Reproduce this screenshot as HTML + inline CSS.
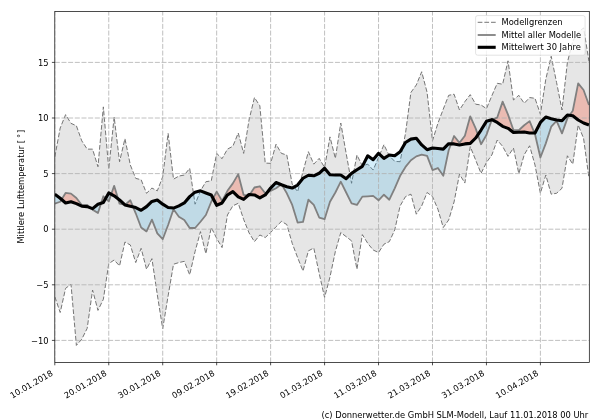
<!DOCTYPE html>
<html><head><meta charset="utf-8"><style>html,body{margin:0;padding:0;background:#fff;}svg{display:block;filter:blur(0.35px);}</style></head>
<body>
<svg width="600" height="420" viewBox="0 0 600 420">
<rect width="600" height="420" fill="#fff"/>
<defs><clipPath id="ax"><rect x="54.8" y="11.4" width="534.5" height="351.0"/></clipPath></defs>
<g clip-path="url(#ax)">
<polygon points="54.8,156.92 60.2,128.01 65.59,114.66 70.99,123.34 76.38,125.78 81.78,140.8 87.17,149.14 92.57,149.14 97.96,166.71 103.36,106.88 108.76,169.15 114.15,117 119.55,161.7 124.94,138.68 130.34,165.04 135.73,178.38 141.13,179.72 146.53,193.28 151.92,188.06 157.32,190.84 162.71,176.71 168.11,133.35 173.5,179.16 178.9,176.05 184.29,175.05 189.69,168.37 195.09,204.18 200.48,190.84 205.88,181.72 211.27,180.83 216.67,153.36 222.06,158.7 227.46,149.14 232.85,146.24 238.25,133.01 243.65,153.36 249.04,120 254.44,97.54 259.83,105.77 265.23,163.04 270.62,163.37 276.02,144.24 281.42,153.36 286.81,155.03 292.21,184.16 297.6,191.73 303,171.71 308.39,151.69 313.79,164.15 319.18,158.37 324.58,167.48 329.98,136.9 335.37,158.37 340.77,123 346.16,153.36 351.56,183.27 356.95,155.03 362.35,165.82 367.74,164.15 373.14,170.04 378.54,157.48 383.93,144.69 389.33,155.81 394.72,161.37 400.12,161.7 405.51,133.35 410.91,92.42 416.31,84.97 421.7,71.74 427.1,92.42 432.49,140.8 437.89,123.34 443.28,109.1 448.68,95.32 454.07,94.2 459.47,109.99 464.87,101.65 470.26,94.65 475.66,104.21 481.05,104.99 486.45,108.66 491.84,95.76 497.24,83.31 502.63,84.2 508.03,60.84 513.43,99.99 518.82,95.32 524.22,103.32 529.61,97.54 535.01,98.32 540.4,114.22 545.8,79.19 551.2,56.28 556.59,82.53 561.99,109.99 567.38,62.4 572.78,41.27 578.17,32.38 583.57,27.93 588.96,61.29 588.96,178.05 583.57,138.35 578.17,125.01 572.78,164.15 567.38,155.81 561.99,188.28 556.59,193.28 551.2,194.17 545.8,175.05 540.4,193.28 535.01,165.04 529.61,145.8 524.22,154.7 518.82,173.6 513.43,148.02 508.03,156.36 502.63,146.36 497.24,140.02 491.84,155.03 486.45,162.48 481.05,173.38 475.66,160.03 470.26,146.69 464.87,183.05 459.47,174.16 454.07,201.96 448.68,219.97 443.28,227.53 437.89,209.18 432.49,196.62 427.1,192.5 421.7,205.85 416.31,214.19 410.91,194.17 405.51,196.62 400.12,205.85 394.72,229.98 389.33,241.65 383.93,244.21 378.54,252.55 373.14,249.99 367.74,243.32 362.35,234.65 356.95,269.23 351.56,240.88 346.16,236.65 340.77,232.54 335.37,251.44 329.98,277.02 324.58,297.48 319.18,273.35 313.79,247.99 308.39,250.88 303,271.01 297.6,257.56 292.21,243.32 286.81,224.53 281.42,221.42 276.02,226.75 270.62,232.54 265.23,237.54 259.83,234.98 254.44,241.65 249.04,232.87 243.65,219.41 238.25,203.29 232.85,205.85 227.46,214.97 222.06,247.55 216.67,238.32 211.27,227.53 205.88,253.66 200.48,231.65 195.09,251.44 189.69,274.79 184.29,261.34 178.9,262.56 173.5,264.23 168.11,295.92 162.71,328.72 157.32,294.81 151.92,258.67 146.53,269.23 141.13,248.33 135.73,262.56 130.34,244.99 124.94,241.99 119.55,265.9 114.15,260 108.76,263.67 103.36,299.26 97.96,310.38 92.57,290.03 87.17,328.39 81.78,339.18 76.38,345.4 70.99,284.24 65.59,288.36 60.2,312.49 54.8,296.7" fill="#808080" fill-opacity="0.2" stroke="none"/>
<polyline points="54.8,156.92 60.2,128.01 65.59,114.66 70.99,123.34 76.38,125.78 81.78,140.8 87.17,149.14 92.57,149.14 97.96,166.71 103.36,106.88 108.76,169.15 114.15,117 119.55,161.7 124.94,138.68 130.34,165.04 135.73,178.38 141.13,179.72 146.53,193.28 151.92,188.06 157.32,190.84 162.71,176.71 168.11,133.35 173.5,179.16 178.9,176.05 184.29,175.05 189.69,168.37 195.09,204.18 200.48,190.84 205.88,181.72 211.27,180.83 216.67,153.36 222.06,158.7 227.46,149.14 232.85,146.24 238.25,133.01 243.65,153.36 249.04,120 254.44,97.54 259.83,105.77 265.23,163.04 270.62,163.37 276.02,144.24 281.42,153.36 286.81,155.03 292.21,184.16 297.6,191.73 303,171.71 308.39,151.69 313.79,164.15 319.18,158.37 324.58,167.48 329.98,136.9 335.37,158.37 340.77,123 346.16,153.36 351.56,183.27 356.95,155.03 362.35,165.82 367.74,164.15 373.14,170.04 378.54,157.48 383.93,144.69 389.33,155.81 394.72,161.37 400.12,161.7 405.51,133.35 410.91,92.42 416.31,84.97 421.7,71.74 427.1,92.42 432.49,140.8 437.89,123.34 443.28,109.1 448.68,95.32 454.07,94.2 459.47,109.99 464.87,101.65 470.26,94.65 475.66,104.21 481.05,104.99 486.45,108.66 491.84,95.76 497.24,83.31 502.63,84.2 508.03,60.84 513.43,99.99 518.82,95.32 524.22,103.32 529.61,97.54 535.01,98.32 540.4,114.22 545.8,79.19 551.2,56.28 556.59,82.53 561.99,109.99 567.38,62.4 572.78,41.27 578.17,32.38 583.57,27.93 588.96,61.29" fill="none" stroke="#6e6e6e" stroke-width="0.95" stroke-dasharray="4.7 1.97"/>
<polyline points="54.8,296.7 60.2,312.49 65.59,288.36 70.99,284.24 76.38,345.4 81.78,339.18 87.17,328.39 92.57,290.03 97.96,310.38 103.36,299.26 108.76,263.67 114.15,260 119.55,265.9 124.94,241.99 130.34,244.99 135.73,262.56 141.13,248.33 146.53,269.23 151.92,258.67 157.32,294.81 162.71,328.72 168.11,295.92 173.5,264.23 178.9,262.56 184.29,261.34 189.69,274.79 195.09,251.44 200.48,231.65 205.88,253.66 211.27,227.53 216.67,238.32 222.06,247.55 227.46,214.97 232.85,205.85 238.25,203.29 243.65,219.41 249.04,232.87 254.44,241.65 259.83,234.98 265.23,237.54 270.62,232.54 276.02,226.75 281.42,221.42 286.81,224.53 292.21,243.32 297.6,257.56 303,271.01 308.39,250.88 313.79,247.99 319.18,273.35 324.58,297.48 329.98,277.02 335.37,251.44 340.77,232.54 346.16,236.65 351.56,240.88 356.95,269.23 362.35,234.65 367.74,243.32 373.14,249.99 378.54,252.55 383.93,244.21 389.33,241.65 394.72,229.98 400.12,205.85 405.51,196.62 410.91,194.17 416.31,214.19 421.7,205.85 427.1,192.5 432.49,196.62 437.89,209.18 443.28,227.53 448.68,219.97 454.07,201.96 459.47,174.16 464.87,183.05 470.26,146.69 475.66,160.03 481.05,173.38 486.45,162.48 491.84,155.03 497.24,140.02 502.63,146.36 508.03,156.36 513.43,148.02 518.82,173.6 524.22,154.7 529.61,145.8 535.01,165.04 540.4,193.28 545.8,175.05 551.2,194.17 556.59,193.28 561.99,188.28 567.38,155.81 572.78,164.15 578.17,125.01 583.57,138.35 588.96,178.05" fill="none" stroke="#6e6e6e" stroke-width="0.95" stroke-dasharray="4.7 1.97"/>
<polygon points="61.58,199.48 65.59,192.95 70.99,193.62 76.38,198.06 81.78,204.96 87.17,204.96 90.55,207.88 90.55,207.88 87.17,206.63 81.78,206.18 76.38,203.62 70.99,201.73 65.59,202.96 61.58,199.48" fill="#f4583a" fill-opacity="0.3"/>
<polygon points="101.12,203.2 103.36,196.28 105.65,198.45 105.65,198.45 103.36,202.51 101.12,203.2" fill="#f4583a" fill-opacity="0.3"/>
<polygon points="111.23,194.27 114.15,185.83 118.1,198.85 118.1,198.85 114.15,195.84 111.23,194.27" fill="#f4583a" fill-opacity="0.3"/>
<polygon points="124.94,204.96 124.94,204.96 130.34,200.29 133.09,206.92 133.09,206.92 130.34,206.29 124.94,204.96 124.94,204.96" fill="#f4583a" fill-opacity="0.3"/>
<polygon points="213.06,198.38 216.67,191.61 222.06,200.84 227.46,190.84 232.85,183.39 238.25,174.16 243.65,194.95 247.8,195.63 247.8,195.63 243.65,199.4 238.25,196.95 232.85,191.61 227.46,194.95 222.06,202.96 216.67,205.29 213.06,198.38" fill="#f4583a" fill-opacity="0.3"/>
<polygon points="249.86,194.57 254.44,187.5 259.83,186.28 265.23,193.28 267.25,192.36 267.25,192.36 265.23,194.95 259.83,197.84 254.44,194.95 249.86,194.57" fill="#f4583a" fill-opacity="0.3"/>
<polygon points="280.94,184.52 281.42,184.16 281.84,184.88 281.84,184.88 281.42,184.72 280.94,184.52" fill="#f4583a" fill-opacity="0.3"/>
<polygon points="451.13,143.79 454.07,136.01 459.47,142.91 464.87,135.79 470.26,116.33 475.66,128.34 477.84,134.78 477.84,134.78 475.66,138.02 470.26,143.35 464.87,143.91 459.47,144.91 454.07,143.91 451.13,143.79" fill="#f4583a" fill-opacity="0.3"/>
<polygon points="491.84,119.67 491.84,119.67 497.24,117.56 502.63,101.65 508.03,114.66 513.43,130.01 518.82,130.23 524.22,125.23 529.61,121.11 534.51,133.01 534.51,133.01 529.61,133.01 524.22,132.01 518.82,132.23 513.43,132.46 508.03,128.34 502.63,126.34 497.24,122.45 491.84,119.67 491.84,119.67" fill="#f4583a" fill-opacity="0.3"/>
<polygon points="569.54,115.31 572.78,110.77 578.17,83.31 583.57,89.98 588.96,104.99 588.96,125.01 583.57,123 578.17,120 572.78,115.78 569.54,115.31" fill="#f4583a" fill-opacity="0.3"/>
<polygon points="54.8,203.62 60.2,201.73 61.58,199.48 61.58,199.48 60.2,198.29 54.8,194.17" fill="#28aae6" fill-opacity="0.2"/>
<polygon points="90.55,207.88 92.57,209.63 97.96,212.96 101.12,203.2 101.12,203.2 97.96,204.18 92.57,208.63 90.55,207.88" fill="#28aae6" fill-opacity="0.2"/>
<polygon points="105.65,198.45 108.76,201.4 111.23,194.27 111.23,194.27 108.76,192.95 105.65,198.45" fill="#28aae6" fill-opacity="0.2"/>
<polygon points="118.1,198.85 119.55,203.62 124.94,204.96 124.94,204.96 124.94,204.96 124.94,204.96 119.55,199.95 118.1,198.85" fill="#28aae6" fill-opacity="0.2"/>
<polygon points="133.09,206.92 135.73,213.3 141.13,227.53 146.53,231.42 151.92,219.64 157.32,233.31 162.71,239.21 168.11,224.97 173.5,209.18 178.9,216.75 184.29,219.97 189.69,227.98 195.09,227.98 200.48,221.75 205.88,214.97 211.27,201.73 213.06,198.38 213.06,198.38 211.27,194.95 205.88,192.95 200.48,190.84 195.09,192.17 189.69,196.62 184.29,202.96 178.9,205.85 173.5,208.07 168.11,207.52 162.71,204.18 157.32,199.95 151.92,201.4 146.53,206.63 141.13,210.3 135.73,207.52 133.09,206.92" fill="#28aae6" fill-opacity="0.2"/>
<polygon points="247.8,195.63 249.04,195.84 249.86,194.57 249.86,194.57 249.04,194.51 247.8,195.63" fill="#28aae6" fill-opacity="0.2"/>
<polygon points="267.25,192.36 270.62,190.84 276.02,188.28 280.94,184.52 280.94,184.52 276.02,182.5 270.62,188.06 267.25,192.36" fill="#28aae6" fill-opacity="0.2"/>
<polygon points="281.84,184.88 286.81,193.28 292.21,204.96 297.6,222.53 303,221.97 308.39,199.73 313.79,204.96 319.18,217.52 324.58,219.19 329.98,201.73 335.37,192.5 340.77,181.72 346.16,192.5 351.56,203.29 356.95,204.96 362.35,196.62 367.74,196.28 373.14,195.84 378.54,200.29 383.93,194.73 389.33,199.73 394.72,188.28 400.12,175.82 405.51,166.93 410.91,160.26 416.31,156.36 421.7,154.7 427.1,155.81 432.49,170.04 437.89,168.04 443.28,175.82 448.68,150.25 451.13,143.79 451.13,143.79 448.68,143.69 443.28,149.14 437.89,148.58 432.49,148.02 427.1,149.69 421.7,144.91 416.31,138.24 410.91,139.13 405.51,142.46 400.12,151.69 394.72,155.81 389.33,155.03 383.93,158.37 378.54,153.36 373.14,159.7 367.74,155.81 362.35,166.37 356.95,169.71 351.56,173.38 346.16,178.72 340.77,175.05 335.37,175.05 329.98,174.71 324.58,168.26 319.18,173.27 313.79,175.82 308.39,175.27 303,178.27 297.6,185.05 292.21,188.06 286.81,186.72 281.84,184.88" fill="#28aae6" fill-opacity="0.2"/>
<polygon points="477.84,134.78 481.05,144.24 486.45,135.01 491.84,119.67 491.84,119.67 491.84,119.67 491.84,119.67 486.45,121.34 481.05,130.01 477.84,134.78" fill="#28aae6" fill-opacity="0.2"/>
<polygon points="534.51,133.01 535.01,134.24 540.4,157.48 545.8,143.35 551.2,126.67 556.59,120.78 561.99,133.35 567.38,118.33 569.54,115.31 569.54,115.31 567.38,115 561.99,120.78 556.59,120 551.2,118.67 545.8,117 540.4,122.45 535.01,133.01 534.51,133.01" fill="#28aae6" fill-opacity="0.2"/>
<path d="M54.8 340.4H589.3M54.8 284.8H589.3M54.8 229.2H589.3M54.8 173.6H589.3M54.8 118H589.3M54.8 62.4H589.3M54.8 362.4V11.4M108.76 362.4V11.4M162.71 362.4V11.4M216.67 362.4V11.4M270.62 362.4V11.4M324.58 362.4V11.4M378.54 362.4V11.4M432.49 362.4V11.4M486.45 362.4V11.4M540.4 362.4V11.4" stroke="#b0b0b0" stroke-width="0.8" stroke-dasharray="5 1.67" fill="none"/>
<polyline points="54.8,203.62 60.2,201.73 65.59,192.95 70.99,193.62 76.38,198.06 81.78,204.96 87.17,204.96 92.57,209.63 97.96,212.96 103.36,196.28 108.76,201.4 114.15,185.83 119.55,203.62 124.94,204.96 130.34,200.29 135.73,213.3 141.13,227.53 146.53,231.42 151.92,219.64 157.32,233.31 162.71,239.21 168.11,224.97 173.5,209.18 178.9,216.75 184.29,219.97 189.69,227.98 195.09,227.98 200.48,221.75 205.88,214.97 211.27,201.73 216.67,191.61 222.06,200.84 227.46,190.84 232.85,183.39 238.25,174.16 243.65,194.95 249.04,195.84 254.44,187.5 259.83,186.28 265.23,193.28 270.62,190.84 276.02,188.28 281.42,184.16 286.81,193.28 292.21,204.96 297.6,222.53 303,221.97 308.39,199.73 313.79,204.96 319.18,217.52 324.58,219.19 329.98,201.73 335.37,192.5 340.77,181.72 346.16,192.5 351.56,203.29 356.95,204.96 362.35,196.62 367.74,196.28 373.14,195.84 378.54,200.29 383.93,194.73 389.33,199.73 394.72,188.28 400.12,175.82 405.51,166.93 410.91,160.26 416.31,156.36 421.7,154.7 427.1,155.81 432.49,170.04 437.89,168.04 443.28,175.82 448.68,150.25 454.07,136.01 459.47,142.91 464.87,135.79 470.26,116.33 475.66,128.34 481.05,144.24 486.45,135.01 491.84,119.67 497.24,117.56 502.63,101.65 508.03,114.66 513.43,130.01 518.82,130.23 524.22,125.23 529.61,121.11 535.01,134.24 540.4,157.48 545.8,143.35 551.2,126.67 556.59,120.78 561.99,133.35 567.38,118.33 572.78,110.77 578.17,83.31 583.57,89.98 588.96,104.99" fill="none" stroke="#808080" stroke-width="1.8" stroke-linejoin="round"/>
<polyline points="54.8,194.17 60.2,198.29 65.59,202.96 70.99,201.73 76.38,203.62 81.78,206.18 87.17,206.63 92.57,208.63 97.96,204.18 103.36,202.51 108.76,192.95 114.15,195.84 119.55,199.95 124.94,204.96 130.34,206.29 135.73,207.52 141.13,210.3 146.53,206.63 151.92,201.4 157.32,199.95 162.71,204.18 168.11,207.52 173.5,208.07 178.9,205.85 184.29,202.96 189.69,196.62 195.09,192.17 200.48,190.84 205.88,192.95 211.27,194.95 216.67,205.29 222.06,202.96 227.46,194.95 232.85,191.61 238.25,196.95 243.65,199.4 249.04,194.51 254.44,194.95 259.83,197.84 265.23,194.95 270.62,188.06 276.02,182.5 281.42,184.72 286.81,186.72 292.21,188.06 297.6,185.05 303,178.27 308.39,175.27 313.79,175.82 319.18,173.27 324.58,168.26 329.98,174.71 335.37,175.05 340.77,175.05 346.16,178.72 351.56,173.38 356.95,169.71 362.35,166.37 367.74,155.81 373.14,159.7 378.54,153.36 383.93,158.37 389.33,155.03 394.72,155.81 400.12,151.69 405.51,142.46 410.91,139.13 416.31,138.24 421.7,144.91 427.1,149.69 432.49,148.02 437.89,148.58 443.28,149.14 448.68,143.69 454.07,143.91 459.47,144.91 464.87,143.91 470.26,143.35 475.66,138.02 481.05,130.01 486.45,121.34 491.84,119.67 497.24,122.45 502.63,126.34 508.03,128.34 513.43,132.46 518.82,132.23 524.22,132.01 529.61,133.01 535.01,133.01 540.4,122.45 545.8,117 551.2,118.67 556.59,120 561.99,120.78 567.38,115 572.78,115.78 578.17,120 583.57,123 588.96,125.01" fill="none" stroke="#000" stroke-width="3.1" stroke-linejoin="round"/>
</g>
<rect x="54.8" y="11.4" width="534.5" height="351" fill="none" stroke="#000" stroke-width="0.7"/>
<path d="M54.8 340.4h-2.9M54.8 284.8h-2.9M54.8 229.2h-2.9M54.8 173.6h-2.9M54.8 118h-2.9M54.8 62.4h-2.9M54.8 362.4v2.9M108.76 362.4v2.9M162.71 362.4v2.9M216.67 362.4v2.9M270.62 362.4v2.9M324.58 362.4v2.9M378.54 362.4v2.9M432.49 362.4v2.9M486.45 362.4v2.9M540.4 362.4v2.9" stroke="#000" stroke-width="0.7"/>
<g font-family="DejaVu Sans, Liberation Sans, sans-serif" font-size="8.33" fill="#000">
<text x="48.5" y="343.5" text-anchor="end">−10</text>
<text x="48.5" y="287.9" text-anchor="end">−5</text>
<text x="48.5" y="232.3" text-anchor="end">0</text>
<text x="48.5" y="176.7" text-anchor="end">5</text>
<text x="48.5" y="121.1" text-anchor="end">10</text>
<text x="48.5" y="65.5" text-anchor="end">15</text>
<text x="53.5" y="374.9" text-anchor="end" transform="rotate(-30 53.5 374.9)">10.01.2018</text>
<text x="107.46" y="374.9" text-anchor="end" transform="rotate(-30 107.46 374.9)">20.01.2018</text>
<text x="161.41" y="374.9" text-anchor="end" transform="rotate(-30 161.41 374.9)">30.01.2018</text>
<text x="215.37" y="374.9" text-anchor="end" transform="rotate(-30 215.37 374.9)">09.02.2018</text>
<text x="269.32" y="374.9" text-anchor="end" transform="rotate(-30 269.32 374.9)">19.02.2018</text>
<text x="323.28" y="374.9" text-anchor="end" transform="rotate(-30 323.28 374.9)">01.03.2018</text>
<text x="377.24" y="374.9" text-anchor="end" transform="rotate(-30 377.24 374.9)">11.03.2018</text>
<text x="431.19" y="374.9" text-anchor="end" transform="rotate(-30 431.19 374.9)">21.03.2018</text>
<text x="485.15" y="374.9" text-anchor="end" transform="rotate(-30 485.15 374.9)">31.03.2018</text>
<text x="539.1" y="374.9" text-anchor="end" transform="rotate(-30 539.1 374.9)">10.04.2018</text>
<text x="0" y="0" transform="translate(24.4 243.6) rotate(-90)">Mittlere Lufttemperatur [ <tspan dx="-0.6">°</tspan><tspan dx="-2.0"> ]</tspan></text>
<text x="588.3" y="418.2" text-anchor="end">(c) Donnerwetter.de GmbH SLM-Modell, Lauf 11.01.2018 00 Uhr</text>
</g>
<rect x="475.6" y="15.6" width="109.5" height="39.6" rx="2" ry="2" fill="#fff" fill-opacity="0.8" stroke="#ccc" stroke-opacity="0.8" stroke-width="0.7"/>
<path d="M477.7 22.3H495.7" stroke="#6e6e6e" stroke-width="0.95" stroke-dasharray="4.7 1.97"/>
<path d="M477.7 35.0H495.7" stroke="#808080" stroke-width="1.8"/>
<path d="M477.7 47.3H495.7" stroke="#000" stroke-width="3.1"/>
<g font-family="DejaVu Sans, Liberation Sans, sans-serif" font-size="8.33" fill="#000">
<text x="501.6" y="25">Modellgrenzen</text>
<text x="501.6" y="37.6">Mittel aller Modelle</text>
<text x="501.6" y="50.1">Mittelwert 30 Jahre</text>
</g>
</svg>
</body></html>
